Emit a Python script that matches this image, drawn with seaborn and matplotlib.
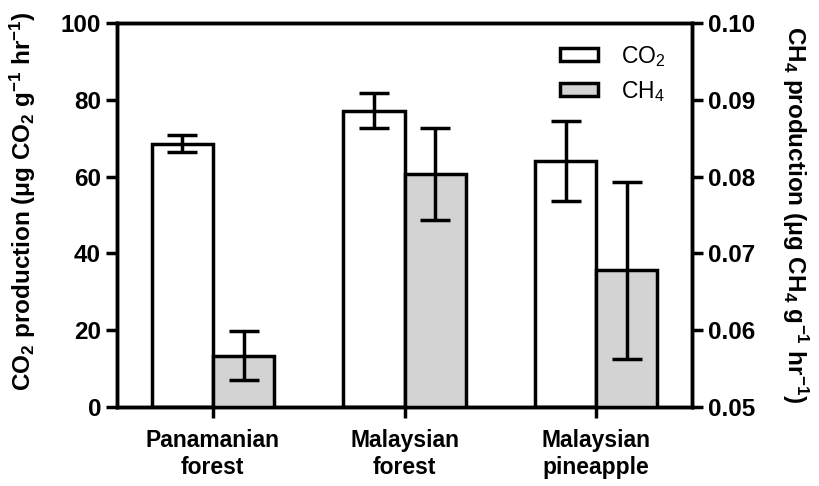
import numpy as np
import pandas as pd
import matplotlib
matplotlib.use("Agg")
import matplotlib.pyplot as plt
import seaborn as sns
from matplotlib.patches import Patch

sites = ["Panamanian\nforest", "Malaysian\nforest", "Malaysian\npineapple"]
co2_mean = [68.5, 77.2, 64.1]
co2_err = [2.2, 4.6, 10.5]
ch4_mean = [0.0567, 0.0803, 0.0678]
ch4_err = [0.0032, 0.0060, 0.0115]
gases = ["CO$_2$", "CH$_4$"]
co2_ticks = [0, 20, 40, 60, 80, 100]
ch4_ticks = [0.05, 0.06, 0.07, 0.08, 0.09, 0.10]

sns.set_theme(style="ticks")
plt.rcParams["font.family"] = ["Liberation Sans", "DejaVu Sans"]
plt.rcParams["mathtext.default"] = "regular"
for k in ["text.color", "axes.labelcolor", "xtick.color", "ytick.color", "axes.edgecolor"]:
    plt.rcParams[k] = "black"

rows = []
for i, s in enumerate(sites):
    rows.append({"site": s, "gas": gases[0], "co2": co2_mean[i], "ch4": np.nan})
    rows.append({"site": s, "gas": gases[1], "co2": np.nan, "ch4": ch4_mean[i]})
df = pd.DataFrame(rows)

pal = {gases[0]: "white", gases[1]: "#D3D3D3"}
LW = 2.5

fig = plt.figure(figsize=(8.2, 4.86), dpi=100)
ax = fig.add_axes([0.1427, 0.1626, 0.7012, 0.7901])
ax2 = ax.twinx()

sns.barplot(data=df, x="site", y="co2", hue="gas", hue_order=gases, order=sites,
            palette=pal, width=0.64, edgecolor="black", linewidth=LW,
            errorbar=None, legend=False, ax=ax, zorder=2)
sns.barplot(data=df, x="site", y="ch4", hue="gas", hue_order=gases, order=sites,
            palette=pal, width=0.64, edgecolor="black", linewidth=LW,
            errorbar=None, legend=False, ax=ax2, zorder=2)

# error bars at the centres of the bars seaborn drew
co2_patches = sorted([p for p in ax.patches if p.get_height() > 0], key=lambda p: p.get_x())
ch4_patches = sorted([p for p in ax2.patches if p.get_height() > 0], key=lambda p: p.get_x())
cx = [p.get_x() + p.get_width() / 2 for p in co2_patches]
hx = [p.get_x() + p.get_width() / 2 for p in ch4_patches]
ax.errorbar(cx, co2_mean, yerr=co2_err, fmt="none", ecolor="black",
            elinewidth=LW, capsize=11, capthick=LW, zorder=3)
ax2.errorbar(hx, ch4_mean, yerr=ch4_err, fmt="none", ecolor="black",
             elinewidth=LW, capsize=11, capthick=LW, zorder=3)

ax.set_xlim(-0.5, 2.5)
ax.set_ylim(0, 100)
ax2.set_ylim(0.05, 0.10)
ax.set_yticks(co2_ticks)
ax2.set_yticks(ch4_ticks)
ax2.set_yticklabels([f"{t:.2f}" for t in ch4_ticks])

for a in (ax, ax2):
    for sp in a.spines.values():
        sp.set_visible(True)
        sp.set_linewidth(LW)
        sp.set_color("black")
    a.tick_params(width=LW, length=8, labelsize=17.5, colors="black", direction="out")
    for lab in a.get_yticklabels():
        lab.set_fontweight("bold")
ax.tick_params(axis="x", pad=8, labelsize=16.5)
for lab in ax.get_xticklabels():
    lab.set_fontweight("bold")
ax.set_xlabel("")
ax2.set_xlabel("")

ax.set_ylabel("CO$_2$ production (μg CO$_2$ g$^{-1}$ hr$^{-1}$)",
              fontsize=17.5, fontweight="bold")
ax.yaxis.set_label_coords(-0.138, 0.535)
ax2.set_ylabel("CH$_4$ production (μg CH$_4$ g$^{-1}$ hr$^{-1}$)",
               fontsize=17.5, fontweight="bold", rotation=270, va="bottom", labelpad=18)

handles = [Patch(facecolor=pal[g], edgecolor="black", linewidth=LW, label=g) for g in gases]
ax2.legend(handles=handles, loc="upper right", bbox_to_anchor=(0.99, 1.0), frameon=False,
           fontsize=16.5, handlelength=1.65, handleheight=0.52, handletextpad=1.0,
           labelspacing=0.45)

fig.savefig("out.png", dpi=100)
